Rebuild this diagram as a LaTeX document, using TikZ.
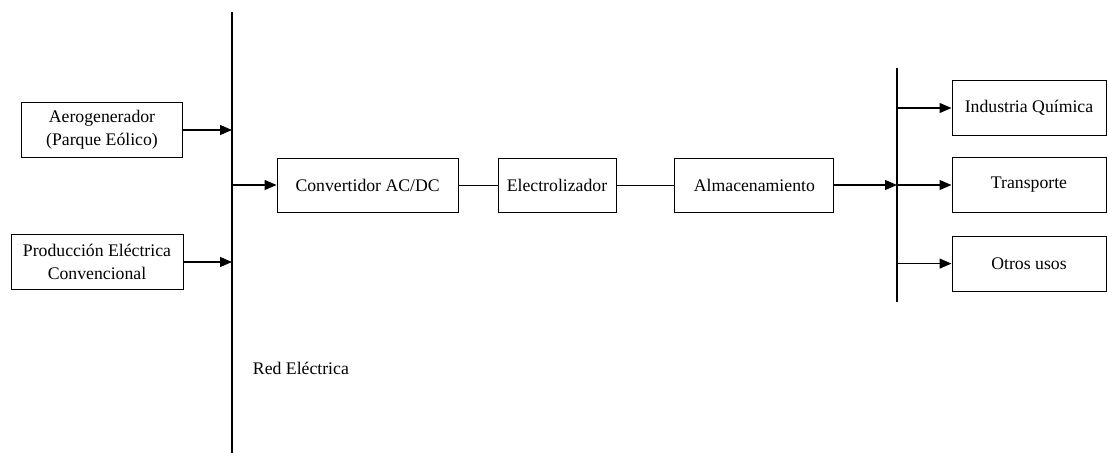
\documentclass[tikz,border=0pt]{standalone}
\usepackage{fontspec}
\setmainfont{Liberation Serif}
\usetikzlibrary{arrows.meta}

\begin{document}
\begin{tikzpicture}[every node/.style={font=\fontsize{12.6}{16.3}\selectfont},
	caja/.style={draw, line width=0.7pt, minimum height=1.38cm, align=center, inner sep=0pt},
	flecha/.style={line width=1.1pt, -{Triangle[length=8.5pt,width=7pt]}},
	enlace/.style={line width=0.7pt},
	barra/.style={line width=1.8pt}]
	\useasboundingbox (0,0) rectangle (27.7,-11.325);
	% barras
	\coordinate (redA) at (5.8,-0.3);
	\coordinate (redB) at (5.8,-11.325);
	\coordinate (usoA) at (22.425,-1.7);
	\coordinate (usoB) at (22.425,-7.55);
	\draw[barra] (redA) -- (redB);
	\draw[barra] (usoA) -- (usoB);
	\node[anchor=west] (red) at (6.2,-9.2) {Red Eléctrica};
	% fuentes
	\node[caja, minimum width=4.025cm] (aero) at (2.55,-3.25) {Aerogenerador\\(Parque Eólico)};
	\node[caja, minimum width=4.3cm] (prod) at (2.425,-6.55) {Producción Eléctrica\\Convencional};
	\draw[flecha] (aero.east) -- (aero.east -| redA);
	\draw[flecha] (prod.east) -- (prod.east -| redA);
	% cadena
	\node[caja, minimum width=4.525cm, minimum height=1.35cm] (conv) at (9.19,-4.625) {Convertidor AC/DC};
	\node[caja, minimum width=2.95cm, minimum height=1.35cm] (elec) at (13.925,-4.625) {Electrolizador};
	\node[caja, minimum width=3.975cm, minimum height=1.35cm] (alma) at (18.86,-4.625) {Almacenamiento};
	\draw[flecha] (conv.west -| redA) -- (conv.west);
	\draw[enlace] (conv) -- (elec);
	\draw[enlace] (elec) -- (alma);
	\draw[flecha] (alma.east) -- (alma.east -| usoA);
	% usos
	\node[caja, minimum width=3.85cm] (quim) at (25.725,-2.7) {Industria Química};
	\node[caja, minimum width=3.85cm] (trans) at (25.725,-4.625) {Transporte};
	\node[caja, minimum width=3.85cm] (otros) at (25.725,-6.59) {Otros usos};
	\foreach \u in {quim,trans,otros}
		\draw[flecha] (\u.west -| usoA) -- (\u.west);
\end{tikzpicture}
\end{document}
